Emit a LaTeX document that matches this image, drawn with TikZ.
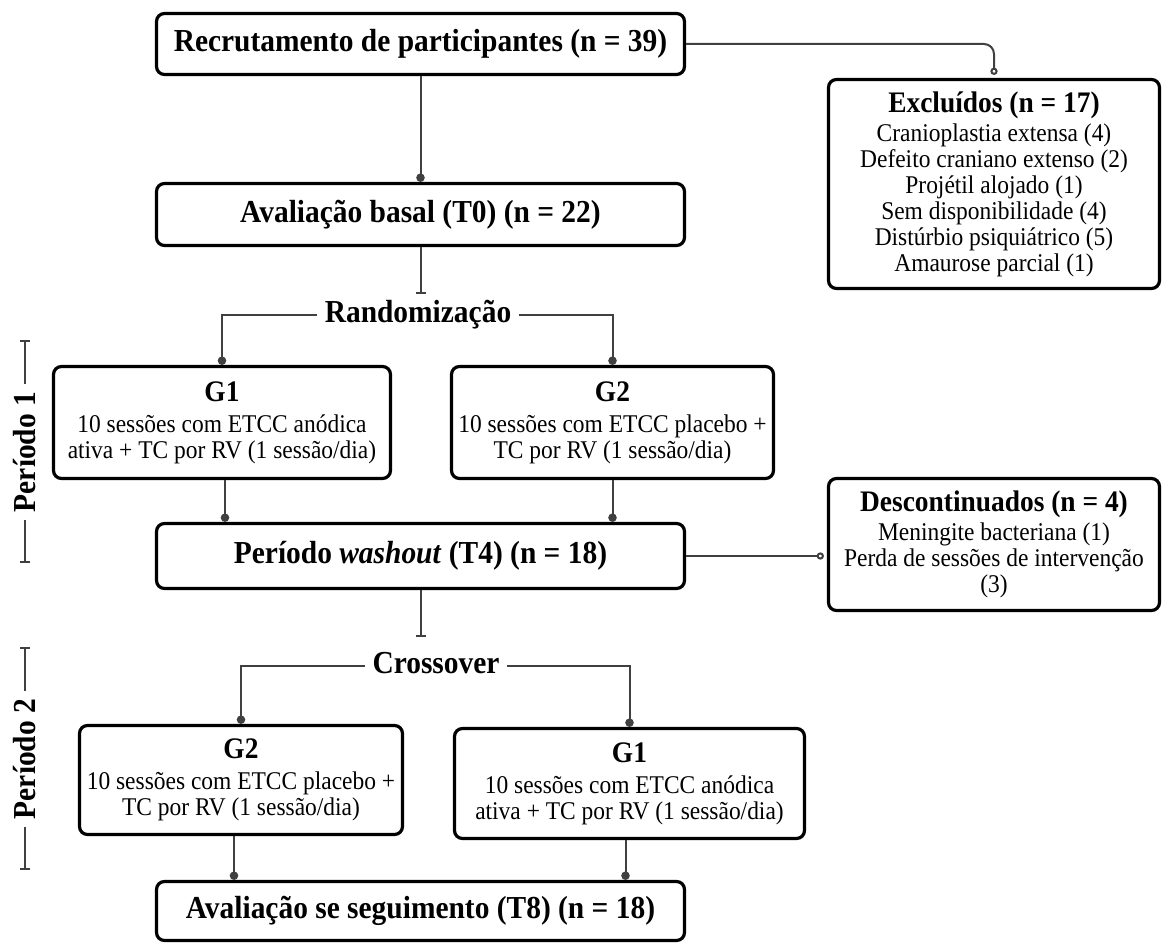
\documentclass[tikz,border=0pt]{standalone}
\usepackage{fontspec}
\setmainfont{Liberation Serif}[FakeStretch=0.92]
\usepackage{xcolor}
\definecolor{lineGray}{RGB}{64, 64, 64}
\usetikzlibrary{arrows.meta, positioning, calc}
\newcommand{\boxtitle}[1]{{\fontsize{14.9}{16}\selectfont\bfseries #1}}

\begin{document}
\begin{tikzpicture}[x=0.5pt, y=-0.5pt,
    box/.style={draw, line width=1.6pt, rounded corners=4pt, align=center, inner sep=0pt,
        font=\fontsize{12.75}{13}\selectfont},
    bigtxt/.style={font=\fontsize{16}{18}\selectfont\bfseries},
    steplabel/.style={bigtxt, inner xsep=3.5pt, inner ysep=0pt, text height=10.8pt, text depth=3.5pt},
    conn/.style={draw=lineGray, line width=1pt},
    dotend/.style={conn, -{Circle[length=4.2pt, width=4.2pt]}},
    ringend/.style={conn, -{Circle[open, length=3.6pt, width=3.6pt, fill=white]}, shorten >=1.5pt},
    teeend/.style={conn, -{Bar[width=5pt, line width=1pt]}},
    perbar/.style={draw=lineGray, line width=0.8pt, -{Bar[width=5pt, line width=0.8pt]}}]
    \useasboundingbox (0,0) rectangle (1162,946);

    \node[box, bigtxt, minimum width=264pt, minimum height=30.5pt] (recrut) at (420.5,44) {Recrutamento de participantes (n = 39)};
    \node[box, bigtxt, minimum width=264pt, minimum height=31pt] (aval) at (420.5,214.5) {Avaliação basal (T0) (n = 22)};
    \node[box, minimum width=165.5pt, minimum height=104.5pt] (excl) at (994,184) {\boxtitle{Excluídos (n = 17)}\\[1.5pt]
        Cranioplastia extensa (4)\\ Defeito craniano extenso (2)\\ Projétil alojado (1)\\
        Sem disponibilidade (4)\\ Distúrbio psiquiátrico (5)\\ Amaurose parcial (1)};

    \node[steplabel] (rand) at (418,315) {Randomização};
    \node[box, minimum width=168.5pt, minimum height=56pt] (g1a) at (222,422.5) {\boxtitle{G1}\\[2.5pt]
        10 sessões com ETCC anódica\\ ativa + TC por RV (1 sessão/dia)};
    \node[box, minimum width=161pt, minimum height=56pt] (g2a) at (612.5,422.5) {\boxtitle{G2}\\[2.5pt]
        10 sessões com ETCC placebo +\\ TC por RV (1 sessão/dia)};

    \node[box, bigtxt, minimum width=264pt, minimum height=32.5pt] (washout) at (420.5,556) {Período \textit{washout} (T4) (n = 18)};
    \node[box, minimum width=165.5pt, minimum height=66pt] (desc) at (994,544.5) {\boxtitle{Descontinuados (n = 4)}\\[1.5pt]
        Meningite bacteriana (1)\\ Perda de sessões de intervenção\\ (3)};

    \node[steplabel] (cross) at (436,666) {Crossover};
    \node[box, minimum width=161.5pt, minimum height=54.5pt] (g2b) at (241,780) {\boxtitle{G2}\\[2.5pt]
        10 sessões com ETCC placebo +\\ TC por RV (1 sessão/dia)};
    \node[box, minimum width=175pt, minimum height=55pt] (g1b) at (629.5,783.5) {\boxtitle{G1}\\[2.5pt]
        10 sessões com ETCC anódica\\ ativa + TC por RV (1 sessão/dia)};
    \node[box, bigtxt, minimum width=264pt, minimum height=29.5pt] (final) at (420.5,911) {Avaliação se seguimento (T8) (n = 18)};

    % periodos
    \node[bigtxt, rotate=90, inner sep=4pt] (per1) at (25,452) {Período 1};
    \node[bigtxt, rotate=90, inner sep=4pt] (per2) at (25,759) {Período 2};
    \coordinate (p1top) at (25,340);
    \coordinate (p1bot) at (25,563);
    \coordinate (p2top) at (25,647);
    \coordinate (p2bot) at (25,870);
    \draw[perbar] (per1.east) -- (p1top);
    \draw[perbar] (per1.west) -- (p1bot);
    \draw[perbar] (per2.east) -- (p2top);
    \draw[perbar] (per2.west) -- (p2bot);

    % connectors
    \coordinate (t1) at (420.5,294);
    \coordinate (t2) at (420.5,637);
    \draw[dotend] (recrut.south) -- (aval.north);
    \draw[ringend, rounded corners=5pt] (recrut.east) -| (excl.north);
    \draw[teeend] (aval.south) -- (t1);
    \draw[dotend] (rand.west) -| (g1a.north);
    \draw[dotend] (rand.east) -| (g2a.north);
    \draw[dotend] ([xshift=1.5pt]g1a.south) -- ([xshift=1.5pt]g1a.south |- washout.north);
    \draw[dotend] (g2a.south) -- (g2a.south |- washout.north);
    \draw[ringend] (washout.east) -- (washout.east -| desc.west);
    \draw[teeend] (washout.south) -- (t2);
    \draw[dotend] (cross.west) -| (g2b.north);
    \draw[dotend] (cross.east) -| (g1b.north);
    \draw[dotend] ([xshift=-3.5pt]g2b.south) -- ([xshift=-3.5pt]g2b.south |- final.north);
    \draw[dotend] ([xshift=-2pt]g1b.south) -- ([xshift=-2pt]g1b.south |- final.north);
\end{tikzpicture}
\end{document}
